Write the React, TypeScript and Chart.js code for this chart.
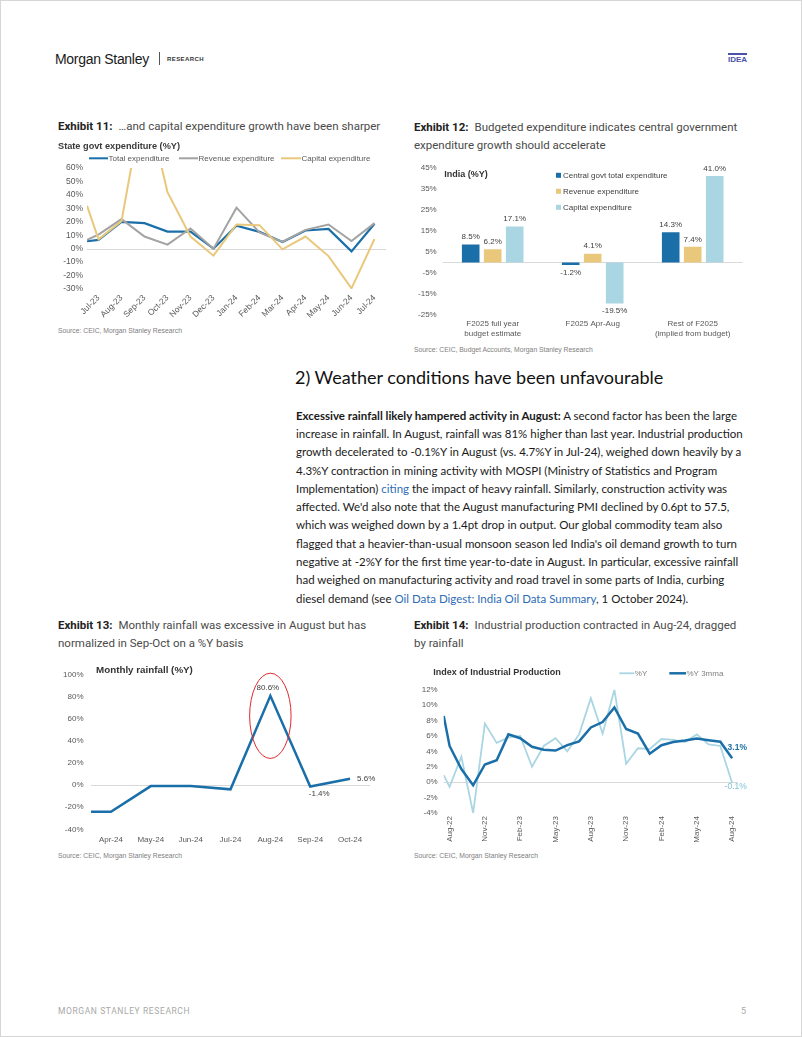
import React, { useEffect, useRef } from 'react';
import { Chart, registerables } from 'chart.js';

Chart.register(...registerables);

const CHART_FONT = '"Liberation Sans", Arial, Helvetica, sans-serif';
const TITLE_FONT = 'Roboto, "Liberation Sans", Arial, sans-serif';
const BODY_FONT = 'Lato, "Open Sans", sans-serif';

const DARK_BLUE = '#1b6fa8';
const GRAY = '#a3a3a3';
const GOLD = '#e9c87b';
const LIGHT_BLUE = '#a9d6e2';
const TICK_COLOR = '#595959';
const LABEL_COLOR = '#404040';
const ZERO_LINE = '#d9d9d9';

// ---------- Exhibit 11: State govt expenditure (%Y)
const ex11Months = ['Jul-23', 'Aug-23', 'Sep-23', 'Oct-23', 'Nov-23', 'Dec-23', 'Jan-24', 'Feb-24', 'Mar-24', 'Apr-24', 'May-24', 'Jun-24', 'Jul-24'];
// first value of each series = lead-in point at the left edge of the plot
const ex11Total = [5.5, 6.5, 20, 19, 12.7, 12.7, 0, 17, 12.5, 5, 13.5, 14.7, -2, 18.5];
const ex11Revenue = [6.5, 10.5, 22, 9, 3, 15, 0, 30.5, 12, 5, 14, 18, 5.7, 19];
const ex11Capital = [32, 7, 20.5, 115, 42, 9, -5.2, 18, 17.5, -0.5, 9, -5.5, -29.5, 7.2];
const ex11YTicks = [60, 50, 40, 30, 20, 10, 0, -10, -20, -30];
const ex11Names = ['Total expenditure', 'Revenue expenditure', 'Capital expenditure'];

// ---------- Exhibit 12: Budgeted expenditure
const ex12Categories = [['F2025 full year', 'budget estimate'], ['F2025 Apr-Aug'], ['Rest of F2025', '(implied from budget)']];
const ex12Total = [8.5, -1.2, 14.3];
const ex12Revenue = [6.2, 4.1, 7.4];
const ex12Capital = [17.1, -19.5, 41.0];
const ex12YTicks = [45, 35, 25, 15, 5, -5, -15, -25];
const ex12Names = ['Central govt total expenditure', 'Revenue expenditure', 'Capital expenditure'];

// ---------- Exhibit 13: Monthly rainfall (%Y)
const ex13Months = ['Apr-24', 'May-24', 'Jun-24', 'Jul-24', 'Aug-24', 'Sep-24', 'Oct-24'];
const ex13Rainfall = [-24.2, -24.2, -1.0, -1.0, -3.9, 80.6, -1.4, 5.6];
const ex13YTicks = [100, 80, 60, 40, 20, 0, -20, -40];

// ---------- Exhibit 14: Index of Industrial Production
const ex14Months = ['Aug-22', 'Sep-22', 'Oct-22', 'Nov-22', 'Dec-22', 'Jan-23', 'Feb-23', 'Mar-23', 'Apr-23', 'May-23', 'Jun-23', 'Jul-23', 'Aug-23', 'Sep-23', 'Oct-23', 'Nov-23', 'Dec-23', 'Jan-24', 'Feb-24', 'Mar-24', 'Apr-24', 'May-24', 'Jun-24', 'Jul-24', 'Aug-24'];
const ex14Yoy = [0.9, -0.6, 3.3, -4.0, 7.6, 5.1, 5.8, 6.0, 2.0, 4.7, 5.7, 4.0, 6.2, 10.9, 6.3, 12.0, 2.4, 4.4, 4.3, 5.6, 5.5, 5.2, 6.2, 4.9, 4.7, -0.1];
const ex14Mma = [8.6, 4.7, 1.7, -0.4, 2.3, 2.85, 6.2, 5.7, 4.6, 4.2, 4.1, 4.8, 5.3, 7.1, 7.8, 9.7, 6.9, 6.3, 3.7, 4.8, 5.2, 5.4, 5.65, 5.45, 5.25, 3.1];
const ex14YTicks = [12, 10, 8, 6, 4, 2, 0, -2, -4];
const ex14TickStep = 3;

type Box = { left: number; top: number; width: number; height: number };
type Plot = { left: number; top: number; right: number; bottom: number };

function frame(box: Box, plot: Plot) {
  const zeroPad = (s: any) => {
    s.paddingLeft = 0;
    s.paddingRight = 0;
    s.paddingTop = 0;
    s.paddingBottom = 0;
  };
  return {
    layout: { padding: { left: 0, top: plot.top - box.top, right: box.left + box.width - plot.right, bottom: 0 } },
    yFit: (s: any) => {
      s.width = plot.left - box.left;
      zeroPad(s);
    },
    xFit: (s: any) => {
      s.height = box.top + box.height - plot.bottom;
      zeroPad(s);
    },
  };
}

function leadIn(values: number[]) {
  return values.map((y, i) => ({ x: i === 0 ? -0.5 : i - 1, y }));
}

function drawText(ctx: CanvasRenderingContext2D, s: string, x: number, y: number, font: string, color: string, align: CanvasTextAlign = 'left') {
  ctx.save();
  ctx.font = font;
  ctx.fillStyle = color;
  ctx.textAlign = align;
  ctx.textBaseline = 'middle';
  ctx.fillText(s, x, y);
  ctx.restore();
}

function drawLineKey(ctx: CanvasRenderingContext2D, x1: number, x2: number, y: number, color: string, w: number) {
  ctx.save();
  ctx.strokeStyle = color;
  ctx.lineWidth = w;
  ctx.beginPath();
  ctx.moveTo(x1, y);
  ctx.lineTo(x2, y);
  ctx.stroke();
  ctx.restore();
}

const zeroLinePlugin = {
  id: 'zeroLine',
  beforeDatasetsDraw(chart: any) {
    const { ctx, chartArea, scales } = chart;
    const y = Math.round(scales.y.getPixelForValue(0)) + 0.5;
    ctx.save();
    ctx.strokeStyle = ZERO_LINE;
    ctx.lineWidth = 1;
    ctx.beginPath();
    ctx.moveTo(chartArea.left, y);
    ctx.lineTo(chartArea.right, y);
    ctx.stroke();
    ctx.restore();
  },
};

const overlay = (draw: (chart: any) => void) => ({ id: 'overlay', afterDraw: draw });

const f = (size: number, weight = 'normal') => `${weight} ${size}px ${CHART_FONT}`;

function tickOpts(size = 8) {
  return { font: { family: CHART_FONT, size }, color: TICK_COLOR };
}

const noGrid = { display: false, drawTicks: false, tickLength: 0 };

// ---------- chart builders
const ex11Box: Box = { left: 55, top: 136, width: 340, height: 188 };
const ex11Plot: Plot = { left: 86, top: 167, right: 385, bottom: 288 };

function buildEx11() {
  const fr = frame(ex11Box, ex11Plot);
  const P = (x: number, y: number): [number, number] => [x - ex11Box.left, y - ex11Box.top];
  const line = (label: string, data: number[], color: string, width: number) => ({
    label,
    data: leadIn(data),
    borderColor: color,
    backgroundColor: color,
    borderWidth: width,
    pointRadius: 0,
    tension: 0,
  });
  return {
    type: 'line',
    data: {
      datasets: [
        line(ex11Names[2], ex11Capital, GOLD, 2),
        line(ex11Names[1], ex11Revenue, GRAY, 2),
        line(ex11Names[0], ex11Total, DARK_BLUE, 2.2),
      ],
    },
    options: {
      responsive: false,
      animation: false,
      devicePixelRatio: 1,
      layout: fr.layout,
      plugins: { legend: { display: false }, tooltip: { enabled: false } },
      scales: {
        x: {
          type: 'linear',
          min: -0.5,
          max: ex11Months.length - 0.5,
          afterFit: fr.xFit,
          afterBuildTicks: (s: any) => {
            s.ticks = ex11Months.map((_, i) => ({ value: i }));
          },
          grid: noGrid,
          border: { display: false },
          ticks: { ...tickOpts(8.5), minRotation: 45, maxRotation: 45, autoSkip: false, padding: 4, callback: (v: any) => ex11Months[v] },
        },
        y: {
          min: -30,
          max: 60,
          afterFit: fr.yFit,
          afterBuildTicks: (s: any) => {
            s.ticks = ex11YTicks.map((v) => ({ value: v }));
          },
          grid: noGrid,
          border: { display: false },
          ticks: { ...tickOpts(8.5), padding: 4, callback: (v: any) => v + '%' },
        },
      },
    },
    plugins: [
      zeroLinePlugin,
      overlay((chart: any) => {
        const ctx = chart.ctx;
        drawText(ctx, 'State govt expenditure (%Y)', ...P(57, 145), f(9.2, 'bold'), '#3a3a3a');
        const keys = [
          { x1: 88, x2: 107, color: DARK_BLUE, name: ex11Names[0] },
          { x1: 178, x2: 197, color: GRAY, name: ex11Names[1] },
          { x1: 280, x2: 300, color: GOLD, name: ex11Names[2] },
        ];
        keys.forEach((k) => {
          const [a, y] = P(k.x1, 157.3);
          const [b] = P(k.x2, 157.3);
          drawLineKey(ctx, a, b, y, k.color, 2);
          drawText(ctx, k.name, b + 0.5, y, f(8), TICK_COLOR);
        });
      }),
    ],
  };
}

const ex12Box: Box = { left: 405, top: 158, width: 360, height: 182 };
const ex12Plot: Plot = { left: 441.7, top: 166.7, right: 741.7, bottom: 314 };

function buildEx12() {
  const fr = frame(ex12Box, ex12Plot);
  const P = (x: number, y: number): [number, number] => [x - ex12Box.left, y - ex12Box.top];
  const colors = [DARK_BLUE, GOLD, LIGHT_BLUE];
  const series = [ex12Total, ex12Revenue, ex12Capital];
  return {
    type: 'bar',
    data: {
      labels: ex12Categories,
      datasets: series.map((d, i) => ({
        label: ex12Names[i],
        data: d,
        backgroundColor: colors[i],
        borderWidth: 0,
        categoryPercentage: 0.66,
        barPercentage: 0.8,
      })),
    },
    options: {
      responsive: false,
      animation: false,
      devicePixelRatio: 1,
      layout: fr.layout,
      plugins: { legend: { display: false }, tooltip: { enabled: false } },
      scales: {
        x: {
          afterFit: fr.xFit,
          grid: noGrid,
          border: { display: false },
          ticks: { ...tickOpts(8), padding: 4, maxRotation: 0, autoSkip: false },
        },
        y: {
          min: -25,
          max: 45,
          afterFit: fr.yFit,
          afterBuildTicks: (s: any) => {
            s.ticks = ex12YTicks.map((v) => ({ value: v }));
          },
          grid: noGrid,
          border: { display: false },
          ticks: { ...tickOpts(8), padding: 6, callback: (v: any) => v + '%' },
        },
      },
    },
    plugins: [
      zeroLinePlugin,
      overlay((chart: any) => {
        const ctx = chart.ctx;
        drawText(ctx, 'India (%Y)', ...P(443.3, 173.5), f(9, 'bold'), '#333333');
        ex12Names.forEach((name, i) => {
          const [x, y] = P(555, 174.3 + i * 16);
          ctx.fillStyle = colors[i];
          ctx.fillRect(x, y - 2.5, 5, 5);
          drawText(ctx, name, x + 7, y, f(8), LABEL_COLOR);
        });
        chart.data.datasets.forEach((ds: any, di: number) => {
          const meta = chart.getDatasetMeta(di);
          meta.data.forEach((bar: any, i: number) => {
            const v = ds.data[i];
            const ly = v >= 0 ? bar.y - 7.5 : bar.y + 7.5;
            drawText(ctx, v.toFixed(1) + '%', bar.x, ly, f(8), LABEL_COLOR, 'center');
          });
        });
      }),
    ],
  };
}

const ex13Box: Box = { left: 50, top: 655, width: 340, height: 195 };
const ex13Plot: Plot = { left: 90, top: 673.3, right: 369, bottom: 828.3 };

function buildEx13() {
  const fr = frame(ex13Box, ex13Plot);
  const P = (x: number, y: number): [number, number] => [x - ex13Box.left, y - ex13Box.top];
  return {
    type: 'line',
    data: {
      datasets: [
        {
          label: 'Monthly rainfall (%Y)',
          data: leadIn(ex13Rainfall),
          borderColor: DARK_BLUE,
          borderWidth: 2.5,
          pointRadius: 0,
          tension: 0,
        },
      ],
    },
    options: {
      responsive: false,
      animation: false,
      devicePixelRatio: 1,
      layout: fr.layout,
      plugins: { legend: { display: false }, tooltip: { enabled: false } },
      scales: {
        x: {
          type: 'linear',
          min: -0.5,
          max: ex13Months.length - 0.5,
          afterFit: fr.xFit,
          afterBuildTicks: (s: any) => {
            s.ticks = ex13Months.map((_, i) => ({ value: i }));
          },
          grid: noGrid,
          border: { display: false },
          ticks: { ...tickOpts(8), maxRotation: 0, autoSkip: false, padding: 6, callback: (v: any) => ex13Months[v] },
        },
        y: {
          min: -40,
          max: 100,
          afterFit: fr.yFit,
          afterBuildTicks: (s: any) => {
            s.ticks = ex13YTicks.map((v) => ({ value: v }));
          },
          grid: noGrid,
          border: { display: false },
          ticks: { ...tickOpts(8), padding: 7.5, callback: (v: any) => v + '%' },
        },
      },
    },
    plugins: [
      zeroLinePlugin,
      overlay((chart: any) => {
        const ctx = chart.ctx;
        const xs = chart.scales.x;
        const ys = chart.scales.y;
        drawText(ctx, 'Monthly rainfall (%Y)', ...P(95, 669.3), f(9.8, 'bold'), '#333333');
        const meta = chart.getDatasetMeta(0);
        const pts = meta.data;
        const peak = pts[5];
        drawText(ctx, '80.6%', peak.x - 2.5, peak.y - 7.7, f(8), LABEL_COLOR, 'center');
        const sep = pts[6];
        drawText(ctx, '-1.4%', sep.x + 9, sep.y + 7.5, f(8), LABEL_COLOR, 'center');
        const oct = pts[7];
        drawText(ctx, '5.6%', oct.x + 7, oct.y, f(8), LABEL_COLOR, 'left');
        // red highlight ellipse around the August peak
        const cx = xs.getPixelForValue(4);
        const yTop = ys.getPixelForValue(101);
        const yBot = ys.getPixelForValue(24);
        const rx = 0.52 * (xs.getPixelForValue(1) - xs.getPixelForValue(0));
        ctx.save();
        ctx.strokeStyle = '#e0282e';
        ctx.lineWidth = 1;
        ctx.beginPath();
        ctx.ellipse(cx, (yTop + yBot) / 2, rx, (yBot - yTop) / 2, 0, 0, Math.PI * 2);
        ctx.stroke();
        ctx.restore();
      }),
    ],
  };
}

const ex14Box: Box = { left: 405, top: 658, width: 360, height: 192 };
const ex14Plot: Plot = { left: 442.7, top: 688.7, right: 737, bottom: 812 };

function buildEx14() {
  const fr = frame(ex14Box, ex14Plot);
  const P = (x: number, y: number): [number, number] => [x - ex14Box.left, y - ex14Box.top];
  return {
    type: 'line',
    data: {
      datasets: [
        { label: '%Y 3mma', data: leadIn(ex14Mma), borderColor: DARK_BLUE, borderWidth: 2.5, pointRadius: 0, tension: 0 },
        { label: '%Y', data: leadIn(ex14Yoy), borderColor: LIGHT_BLUE, borderWidth: 1.8, pointRadius: 0, tension: 0 },
      ],
    },
    options: {
      responsive: false,
      animation: false,
      devicePixelRatio: 1,
      layout: fr.layout,
      plugins: { legend: { display: false }, tooltip: { enabled: false } },
      scales: {
        x: {
          type: 'linear',
          min: -0.5,
          max: ex14Months.length - 0.5,
          afterFit: fr.xFit,
          afterBuildTicks: (s: any) => {
            s.ticks = ex14Months.map((_, i) => i).filter((i) => i % ex14TickStep === 0).map((i) => ({ value: i }));
          },
          grid: noGrid,
          border: { display: false },
          ticks: { ...tickOpts(8), minRotation: 90, maxRotation: 90, autoSkip: false, padding: 3, callback: (v: any) => ex14Months[v] },
        },
        y: {
          min: -4,
          max: 12,
          afterFit: fr.yFit,
          afterBuildTicks: (s: any) => {
            s.ticks = ex14YTicks.map((v) => ({ value: v }));
          },
          grid: noGrid,
          border: { display: false },
          ticks: { ...tickOpts(8), padding: 6, callback: (v: any) => v + '%' },
        },
      },
    },
    plugins: [
      zeroLinePlugin,
      overlay((chart: any) => {
        const ctx = chart.ctx;
        drawText(ctx, 'Index of Industrial Production', ...P(432.3, 671.3), f(9, 'bold'), '#333333');
        {
          const [a, y] = P(618.3, 672.3);
          const [b] = P(633.3, 672.3);
          drawLineKey(ctx, a, b, y, LIGHT_BLUE, 1.8);
          drawText(ctx, '%Y', b + 0.5, y, f(8), '#7f7f7f');
        }
        {
          const [a, y] = P(668.3, 672.3);
          const [b] = P(685, 672.3);
          drawLineKey(ctx, a, b, y, DARK_BLUE, 2.5);
          drawText(ctx, '%Y 3mma', b + 0.5, y, f(8), '#7f7f7f');
        }
        const mmaLast = chart.getDatasetMeta(0).data[ex14Mma.length - 1];
        const yoyLast = chart.getDatasetMeta(1).data[ex14Yoy.length - 1];
        drawText(ctx, ex14Mma[ex14Mma.length - 1].toFixed(1) + '%', mmaLast.x - 4.5, mmaLast.y - 10.7, f(8.5, 'bold'), DARK_BLUE, 'left');
        drawText(ctx, ex14Yoy[ex14Yoy.length - 1].toFixed(1) + '%', yoyLast.x - 7.5, yoyLast.y + 4, f(8.5), '#7fc3d6', 'left');
      }),
    ],
  };
}

function ChartCanvas({ box, build }: { box: Box; build: () => any }) {
  const ref = useRef<HTMLCanvasElement | null>(null);
  useEffect(() => {
    const chart = new Chart(ref.current as HTMLCanvasElement, build());
    return () => chart.destroy();
  }, []);
  return (
    <canvas
      ref={ref}
      width={box.width}
      height={box.height}
      style={{ position: 'absolute', left: box.left, top: box.top, width: box.width, height: box.height }}
    />
  );
}

function ExhibitTitle({ left, top, num, lines }: { left: number; top: number; num: string; lines: string[] }) {
  return (
    <div
      style={{
        position: 'absolute',
        left,
        top: top - 8.75,
        fontFamily: TITLE_FONT,
        fontSize: 11.5,
        lineHeight: '17.5px',
        color: '#4a4a4a',
        whiteSpace: 'nowrap',
      }}
    >
      <span style={{ fontWeight: 700, color: '#222', marginRight: 6 }}>{num}</span>
      {lines[0]}
      {lines.slice(1).map((l, i) => (
        <div key={i}>{l}</div>
      ))}
    </div>
  );
}

function Source({ left, top, text }: { left: number; top: number; text: string }) {
  return (
    <div
      style={{
        position: 'absolute',
        left,
        top: top - 5,
        fontFamily: CHART_FONT,
        fontSize: 6.8,
        lineHeight: '10px',
        color: '#808080',
        whiteSpace: 'nowrap',
      }}
    >
      {text}
    </div>
  );
}

const LINK = '#2e6cb5';

const bodyLines: React.ReactNode[] = [
  <>
    <b>Excessive rainfall likely hampered activity in August:</b> A second factor has been the large
  </>,
  'increase in rainfall. In August, rainfall was 81% higher than last year. Industrial production',
  'growth decelerated to -0.1%Y in August (vs. 4.7%Y in Jul-24), weighed down heavily by a',
  '4.3%Y contraction in mining activity with MOSPI (Ministry of Statistics and Program',
  <>
    Implementation) <span style={{ color: LINK }}>citing</span> the impact of heavy rainfall. Similarly, construction activity was
  </>,
  "affected. We'd also note that the August manufacturing PMI declined by 0.6pt to 57.5,",
  'which was weighed down by a 1.4pt drop in output. Our global commodity team also',
  "flagged that a heavier-than-usual monsoon season led India's oil demand growth to turn",
  'negative at -2%Y for the first time year-to-date in August. In particular, excessive rainfall',
  'had weighed on manufacturing activity and road travel in some parts of India, curbing',
  <>
    diesel demand (see <span style={{ color: LINK }}>Oil Data Digest: India Oil Data Summary</span>, 1 October 2024).
  </>,
];

export default function App() {
  return (
    <div
      style={{
        position: 'absolute',
        left: 0,
        top: 0,
        width: 802,
        height: 1037,
        background: '#ffffff',
        overflow: 'hidden',
        boxSizing: 'border-box',
        border: '1px solid #d6d6d6',
      }}
    >
      {/* header */}
      <div style={{ position: 'absolute', left: 54, top: 49, fontFamily: CHART_FONT, fontSize: 14, letterSpacing: -0.3, color: '#1a1a1a', lineHeight: '18px' }}>
        Morgan Stanley
      </div>
      <div style={{ position: 'absolute', left: 158, top: 51, width: 1, height: 13, background: '#555' }} />
      <div style={{ position: 'absolute', left: 166, top: 54, fontFamily: CHART_FONT, fontSize: 6, fontWeight: 700, letterSpacing: 0.4, color: '#333', lineHeight: '8px' }}>
        RESEARCH
      </div>
      <div style={{ position: 'absolute', left: 727, top: 52, width: 19, height: 2, background: '#4a52a8' }} />
      <div style={{ position: 'absolute', left: 727, top: 54, fontFamily: CHART_FONT, fontSize: 8, fontWeight: 700, color: '#4a52a8', lineHeight: '10px' }}>
        IDEA
      </div>

      {/* Exhibit 11 */}
      <ExhibitTitle left={57} top={126} num="Exhibit 11:" lines={['\u2026and capital expenditure growth have been sharper']} />
      <ChartCanvas box={ex11Box} build={buildEx11} />
      <Source left={57} top={330} text="Source: CEIC, Morgan Stanley Research" />

      {/* Exhibit 12 */}
      <ExhibitTitle left={413} top={127} num="Exhibit 12:" lines={['Budgeted expenditure indicates central government', 'expenditure growth should accelerate']} />
      <ChartCanvas box={ex12Box} build={buildEx12} />
      <Source left={413} top={349} text="Source: CEIC, Budget Accounts, Morgan Stanley Research" />

      {/* Section text */}
      <div style={{ position: 'absolute', left: 294, top: 365, fontFamily: BODY_FONT, fontSize: 18, color: '#111', lineHeight: '22px', whiteSpace: 'nowrap' }}>
        2) Weather conditions have been unfavourable
      </div>
      <div
        style={{
          position: 'absolute',
          left: 295,
          top: 405.9,
          fontFamily: BODY_FONT,
          fontSize: 11.5,
          lineHeight: '18.27px',
          color: '#1a1a1a',
          whiteSpace: 'nowrap',
        }}
      >
        {bodyLines.map((l, i) => (
          <div key={i}>{l}</div>
        ))}
      </div>

      {/* Exhibit 13 */}
      <ExhibitTitle left={57} top={625} num="Exhibit 13:" lines={['Monthly rainfall was excessive in August but has', 'normalized in Sep-Oct on a %Y basis']} />
      <ChartCanvas box={ex13Box} build={buildEx13} />
      <Source left={57} top={855} text="Source: CEIC, Morgan Stanley Research" />

      {/* Exhibit 14 */}
      <ExhibitTitle left={413} top={625} num="Exhibit 14:" lines={['Industrial production contracted in Aug-24, dragged', 'by rainfall']} />
      <ChartCanvas box={ex14Box} build={buildEx14} />
      <Source left={413} top={855} text="Source: CEIC, Morgan Stanley Research" />

      {/* footer */}
      <div style={{ position: 'absolute', left: 57, top: 1004, fontFamily: TITLE_FONT, fontSize: 8.5, letterSpacing: 0.6, color: '#a8a8a8', lineHeight: '12px' }}>
        MORGAN STANLEY RESEARCH
      </div>
      <div style={{ position: 'absolute', left: 740, top: 1004, fontFamily: TITLE_FONT, fontSize: 9, color: '#a8a8a8', lineHeight: '12px' }}>
        5
      </div>
    </div>
  );
}
